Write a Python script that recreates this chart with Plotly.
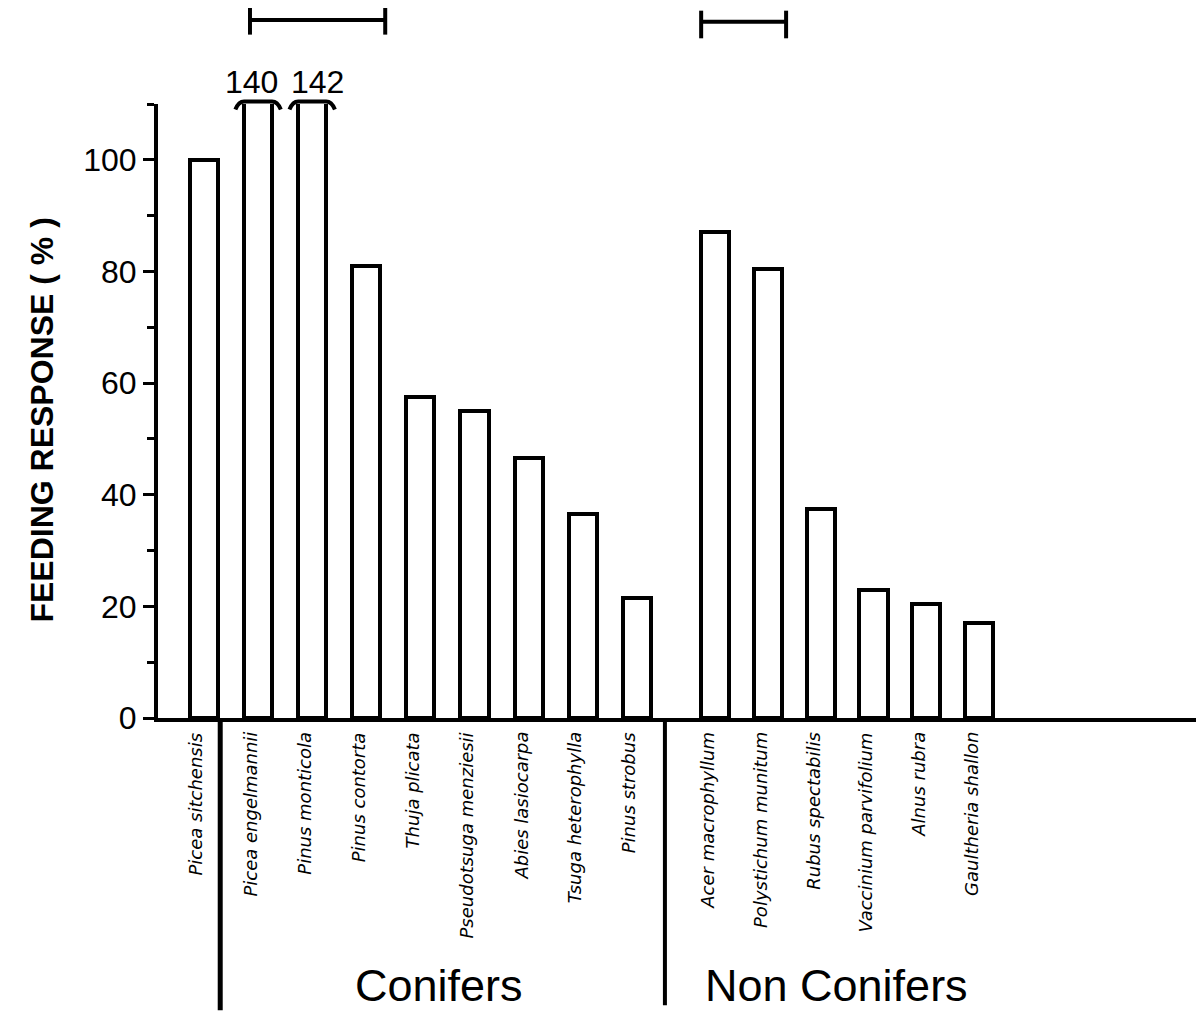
import plotly.graph_objects as go

# ---------------- data ----------------
conifers = ["Picea sitchensis", "Picea engelmannii", "Pinus monticola", "Pinus contorta",
            "Thuja plicata", "Pseudotsuga menziesii", "Abies lasiocarpa",
            "Tsuga heterophylla", "Pinus strobus"]
conifer_values = [100, 140, 142, 81, 57.5, 55, 46.5, 36.5, 21.5]

non_conifers = ["Acer macrophyllum", "Polystichum munitum", "Rubus spectabilis",
                "Vaccinium parvifolium", "Alnus rubra", "Gaultheria shallon"]
non_conifer_values = [87, 80.5, 37.5, 23, 20.5, 17]

y_ticks = [0, 20, 40, 60, 80, 100]
group_labels = ["Conifers", "Non Conifers"]
y_title = "FEEDING RESPONSE ( % )"

# ---------------- layout helpers ----------------
Y_MAX = 110          # axis break level
GROUP_GAP = 9.45     # x position of first non-conifer
NC_STEP = 0.975

x_con = list(range(len(conifers)))
x_non = [GROUP_GAP + j * NC_STEP for j in range(len(non_conifers))]
names = conifers + non_conifers
values = conifer_values + non_conifer_values
xs = x_con + x_non

FONT = "Liberation Sans"
fig = go.Figure()
fig.add_trace(go.Bar(
    x=xs, y=values, width=0.52,
    marker=dict(color="white", line=dict(color="black", width=4)),
    showlegend=False, hoverinfo="skip"))

shapes = []
annotations = []

# category labels (rotated, italic)
for x, n in zip(xs, names):
    annotations.append(dict(
        x=x, y=0, xref="x", yref="y", text=f"<i>{n}</i>", textangle=-90,
        showarrow=False, xanchor="center", yanchor="top", yshift=-12, xshift=-8,
        font=dict(family="DejaVu Sans", size=18, color="black")))

# broken tall bars: braces + value labels
broken_shifts = [-7, 5]
k = 0
for x, v in zip(xs, values):
    if v > Y_MAX:
        h = 0.42
        y0, y1 = 0.991, 1.004
        path = (f"M {x-h},{y0} Q {x-h+0.06},{y1} {x-h+0.16},{y1} "
                f"L {x+h-0.16},{y1} Q {x+h-0.06},{y1} {x+h},{y0}")
        shapes.append(dict(type="path", path=path, xref="x", yref="paper",
                           line=dict(color="black", width=4)))
        annotations.append(dict(
            x=x, y=1.036, xref="x", yref="paper", text=f"{v:g}", showarrow=False,
            xanchor="center", yanchor="middle", xshift=broken_shifts[k % 2],
            font=dict(family=FONT, size=32, color="black")))
        k += 1

# scale bars at top
for xa, xb, yc, ytop, ybot in [(0.85, 3.35, 1.137, 1.157, 1.113),
                              (9.19, 10.76, 1.134, 1.152, 1.107)]:
    shapes.append(dict(type="line", xref="x", yref="paper", x0=xa, x1=xb, y0=yc, y1=yc,
                       line=dict(color="black", width=4)))
    for xe in (xa, xb):
        shapes.append(dict(type="line", xref="x", yref="paper", x0=xe, x1=xe,
                           y0=ybot, y1=ytop, line=dict(color="black", width=4)))

# group separator lines
for xe, yb, w in [(0.3, -0.476, 5), (8.52, -0.468, 4)]:
    shapes.append(dict(type="line", xref="x", yref="paper", x0=xe, x1=xe, y0=0, y1=yb,
                       line=dict(color="black", width=w)))

# group labels
for lab, xc in zip(group_labels, [4.34, 11.7]):
    annotations.append(dict(
        x=xc, y=-0.435, xref="x", yref="paper", text=lab, showarrow=False,
        xanchor="center", yanchor="middle",
        font=dict(family=FONT, size=45, color="black")))

# y title
annotations.append(dict(
    x=-0.111, y=0.485, xref="paper", yref="paper", text=f"<b>{y_title}</b>",
    textangle=-90, showarrow=False, xanchor="center", yanchor="middle",
    font=dict(family=FONT, size=32, color="black")))

# page body has an 8px margin, so the figure is 8px smaller than the window
px_per_unit = 54.1
left_margin, right_margin = 150, 4
fig_w, fig_h = 1196, 1009
plot_w = fig_w - left_margin - right_margin
x0 = -0.85

fig.update_layout(
    width=fig_w, height=fig_h,
    margin=dict(l=left_margin, r=right_margin, t=96, b=299),
    paper_bgcolor="white", plot_bgcolor="white",
    shapes=shapes, annotations=annotations,
    xaxis=dict(range=[x0, x0 + plot_w / px_per_unit], showgrid=False, zeroline=False,
               showline=True, linewidth=4, linecolor="black",
               showticklabels=False, ticks=""),
    yaxis=dict(range=[0, Y_MAX], showgrid=False, zeroline=False,
               showline=True, linewidth=4, linecolor="black",
               tickvals=y_ticks, ticks="outside", ticklen=11, tickwidth=3,
               tickcolor="black", ticklabelstandoff=0,
               tickfont=dict(family=FONT, size=32, color="black"),
               minor=dict(dtick=10, tick0=0, ticks="outside", ticklen=7,
                          tickwidth=3, tickcolor="black")),
    bargap=0,
)

fig.write_html("out.html")
